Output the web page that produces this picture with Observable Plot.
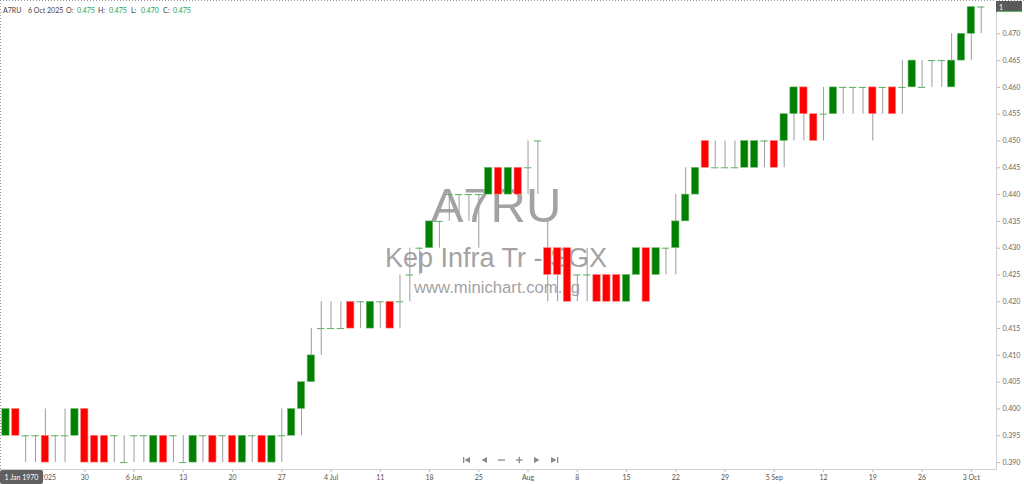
<!DOCTYPE html>
<html><head><meta charset="utf-8">
<script src="https://cdn.jsdelivr.net/npm/d3@7"></script>
<script src="https://cdn.jsdelivr.net/npm/@observablehq/plot@0.6"></script>
<style>
html,body{margin:0;padding:0;background:#fff;}
#wrap{position:relative;width:1024px;height:484px;overflow:hidden;}
#wrap svg.layer{position:absolute;left:0;top:0;}
#chart{position:absolute;left:0;top:0;}
</style></head><body>
<div id="wrap">
<svg class="layer" width="1024" height="484" font-family="'Liberation Sans', Arial, sans-serif" fill="#a3a3a3" text-anchor="middle">
  <text x="496" y="222" font-size="49">A7RU</text>
  <text x="496" y="267" font-size="27">Kep Infra Tr - SGX</text>
  <text x="497" y="293" font-size="16.7">www.minichart.com.sg</text>
</svg>
<div id="chart"></div>
<svg class="layer" id="fg" width="1024" height="484" font-family="Lato, sans-serif" font-size="7"></svg>
</div>
<script>
// ---- data ----
const firstDay = "2025-05-20";
const lastSlot = "2025-10-07"; // one spare slot right of the last candle
const open  = [0.395,0.400,0.395,0.395,0.395,0.395,0.395,0.395,0.400,0.395,
               0.395,0.395,0.390,0.395,0.395,0.390,0.395,0.395,0.390,0.390,
               0.395,0.395,0.395,0.395,0.390,0.395,0.395,0.390,0.395,0.395,
               0.400,0.405,0.415,0.415,0.415,0.420,0.420,0.415,0.420,0.420,
               0.420,0.425,0.430,0.430,0.435,0.440,0.440,0.440,0.440,0.440,
               0.445,0.440,0.445,0.445,0.450,0.430,0.430,0.430,0.425,0.425,
               0.425,0.425,0.425,0.420,0.425,0.430,0.425,0.430,0.430,0.435,
               0.440,0.450,0.445,0.445,0.445,0.445,0.445,0.450,0.450,0.450,
               0.455,0.460,0.455,0.455,0.455,0.460,0.460,0.460,0.460,0.460,
               0.460,0.460,0.460,0.460,0.465,0.465,0.460,0.465,0.470,0.475];
const high  = [0.400,0.400,0.395,0.395,0.400,0.395,0.400,0.400,0.400,0.395,
               0.395,0.395,0.395,0.395,0.395,0.395,0.395,0.395,0.395,0.395,
               0.395,0.395,0.395,0.395,0.395,0.395,0.395,0.395,0.400,0.400,
               0.405,0.415,0.420,0.420,0.420,0.420,0.420,0.420,0.420,0.420,
               0.425,0.430,0.430,0.435,0.435,0.440,0.440,0.440,0.440,0.445,
               0.445,0.445,0.445,0.450,0.450,0.435,0.430,0.430,0.425,0.430,
               0.425,0.425,0.425,0.425,0.430,0.430,0.430,0.430,0.440,0.445,
               0.445,0.450,0.450,0.450,0.450,0.450,0.450,0.450,0.450,0.455,
               0.460,0.460,0.455,0.460,0.460,0.460,0.460,0.460,0.460,0.460,
               0.460,0.465,0.465,0.465,0.465,0.465,0.470,0.470,0.475,0.475];
const low   = [0.395,0.395,0.390,0.390,0.390,0.390,0.390,0.395,0.390,0.390,
               0.390,0.390,0.390,0.390,0.390,0.390,0.390,0.390,0.390,0.390,
               0.390,0.390,0.390,0.390,0.390,0.390,0.390,0.390,0.390,0.395,
               0.395,0.405,0.410,0.415,0.415,0.415,0.415,0.415,0.415,0.415,
               0.415,0.420,0.425,0.430,0.430,0.435,0.435,0.435,0.430,0.440,
               0.435,0.440,0.440,0.440,0.440,0.420,0.420,0.420,0.420,0.420,
               0.420,0.420,0.420,0.420,0.425,0.420,0.425,0.425,0.425,0.435,
               0.440,0.445,0.445,0.445,0.445,0.445,0.445,0.445,0.445,0.445,
               0.450,0.450,0.450,0.450,0.455,0.455,0.455,0.455,0.450,0.455,
               0.455,0.455,0.460,0.460,0.460,0.460,0.460,0.465,0.465,0.470];
const close = [0.400,0.395,0.395,0.395,0.390,0.395,0.395,0.400,0.390,0.390,
               0.390,0.395,0.390,0.395,0.395,0.395,0.390,0.395,0.390,0.395,
               0.395,0.390,0.395,0.390,0.395,0.395,0.390,0.395,0.395,0.400,
               0.405,0.410,0.415,0.415,0.415,0.415,0.420,0.420,0.420,0.415,
               0.420,0.425,0.430,0.435,0.435,0.440,0.440,0.440,0.440,0.445,
               0.440,0.445,0.440,0.445,0.450,0.425,0.425,0.420,0.425,0.425,
               0.420,0.420,0.420,0.425,0.430,0.420,0.430,0.430,0.435,0.440,
               0.445,0.445,0.445,0.445,0.445,0.450,0.450,0.450,0.445,0.455,
               0.460,0.455,0.450,0.455,0.460,0.460,0.460,0.460,0.455,0.460,
               0.455,0.460,0.465,0.460,0.465,0.465,0.465,0.470,0.475,0.475];
const xTickDates  = ["2025-05-23","2025-05-30","2025-06-06","2025-06-13","2025-06-20","2025-06-27",
                     "2025-07-04","2025-07-11","2025-07-18","2025-07-25","2025-08-01","2025-08-08",
                     "2025-08-15","2025-08-22","2025-08-29","2025-09-05","2025-09-12","2025-09-19",
                     "2025-09-26","2025-10-03"];
const xTickLabels = ["23 May 2025","30","6 Jun","13","20","27","4 Jul","11","18","25","Aug","8",
                     "15","22","29","5 Sep","12","19","26","3 Oct"];
const yTicks = [0.390,0.395,0.400,0.405,0.410,0.415,0.420,0.425,0.430,0.435,0.440,
                0.445,0.450,0.455,0.460,0.465,0.470];

// trading-day slots (weekdays)
const fmt = d3.utcFormat("%Y-%m-%d");
const slots = d3.utcDays(new Date(firstDay), d3.utcDay.offset(new Date(lastSlot), 1))
  .filter(d => d.getUTCDay() > 0 && d.getUTCDay() < 6).map(fmt);
const data = open.map((o, i) => ({date: slots[i], open: o, high: high[i], low: low[i], close: close[i]}));
const labelOf = new Map(xTickDates.map((d, i) => [d, xTickLabels[i]]));

const chart = Plot.plot({
  width: 1024, height: 484,
  marginTop: 0, marginBottom: 15, marginLeft: 0, marginRight: 28,
  style: {background: "transparent", fontFamily: "Lato, sans-serif", fontSize: "7px", color: "#555"},
  x: {type: "band", domain: slots, paddingInner: 0.25, paddingOuter: 0.18, align: 0.5},
  y: {domain: [0.38871, 0.47621]},
  marks: [
    Plot.axisY({anchor: "right", ticks: yTicks, tickFormat: d3.format(".3f"), tickSize: 3, tickPadding: 3,
                stroke: "#bbb", fill: "#666", label: null}),
    Plot.axisX({ticks: xTickDates, tickFormat: d => labelOf.get(d), tickSize: 3, tickPadding: 2.5,
                stroke: "#bbb", fill: "#555", label: null}),
    Plot.ruleX(data.filter(d => d.high > d.low), {x: "date", y1: "low", y2: "high", stroke: "#9c9c9c", strokeWidth: 1}),
    Plot.barY(data.filter(d => d.close > d.open), {x: "date", y1: "open", y2: "close", fill: "#008000", stroke: "#7cc07c", strokeWidth: 0.6}),
    Plot.barY(data.filter(d => d.close < d.open), {x: "date", y1: "open", y2: "close", fill: "#ff0000", stroke: "#ff8a8a", strokeWidth: 0.6}),
    Plot.tickY(data.filter(d => d.close === d.open), {x: "date", y: "close", stroke: "#5cae5c", strokeWidth: 1})
  ]
});
document.getElementById("chart").appendChild(chart);

// ---- decorations ----
const fg = d3.select("#fg");
// frame
fg.append("line").attr("x1",0).attr("x2",1024).attr("y1",0.5).attr("y2",0.5).attr("stroke","#999").attr("stroke-dasharray","1,2");
fg.append("line").attr("x1",0.5).attr("x2",0.5).attr("y1",0).attr("y2",470).attr("stroke","#999").attr("stroke-dasharray","1,2");
fg.append("line").attr("x1",996.5).attr("x2",996.5).attr("y1",0).attr("y2",470).attr("stroke","#d0d0d0");
fg.append("line").attr("x1",0).attr("x2",997).attr("y1",469.5).attr("y2",469.5).attr("stroke","#d0d0d0");
// header
const hdr = fg.append("text").attr("y", 13).attr("fill", "#444").attr("font-size", 7);
const parts = [["A7RU",3,"#444"],["6 Oct 2025",28,"#444"],["O:",66,"#444"],["0.475",77,"#2f9e2f"],
               ["H:",98,"#444"],["0.475",109,"#2f9e2f"],["L:",131,"#444"],["0.470",141,"#2f9e2f"],
               ["C:",163,"#444"],["0.475",173,"#2f9e2f"]];
parts.forEach(([t,x,c]) => hdr.append("tspan").attr("x", x).attr("fill", c).text(t));
// bottom-left date box
fg.append("rect").attr("x",0).attr("y",470).attr("width",43).attr("height",14).attr("rx",2).attr("fill","#606060");
fg.append("text").attr("x",21.5).attr("y",480).attr("text-anchor","middle").attr("fill","#fff").text("1 Jan 1970");
// top-right price box
fg.append("rect").attr("x",996).attr("y",1).attr("width",26).attr("height",11).attr("fill","#5a5a5a");
fg.append("line").attr("x1",997).attr("x2",1022).attr("y1",11.5).attr("y2",11.5).attr("stroke","#5cb85c");
fg.append("text").attr("x",999).attr("y",9.5).attr("fill","#fff").text("1");
// navigation icons
const nav = fg.append("g").attr("fill","#8a8a8a").attr("stroke","#8a8a8a");
nav.append("rect").attr("x",463).attr("y",457).attr("width",1.3).attr("height",6).attr("stroke","none");
nav.append("path").attr("d","M470,457 L464.5,460 L470,463 Z").attr("stroke","none");
nav.append("path").attr("d","M487,457 L481.5,460 L487,463 Z").attr("stroke","none");
nav.append("rect").attr("x",498).attr("y",459.4).attr("width",7).attr("height",1.3).attr("stroke","none");
nav.append("rect").attr("x",516).attr("y",459.4).attr("width",6.5).attr("height",1.3).attr("stroke","none");
nav.append("rect").attr("x",518.6).attr("y",456.8).attr("width",1.3).attr("height",6.5).attr("stroke","none");
nav.append("path").attr("d","M534,457 L539.5,460 L534,463 Z").attr("stroke","none");
nav.append("path").attr("d","M551,457 L556.5,460 L551,463 Z").attr("stroke","none");
nav.append("rect").attr("x",557).attr("y",457).attr("width",1.3).attr("height",6).attr("stroke","none");
</script>
</body></html>
